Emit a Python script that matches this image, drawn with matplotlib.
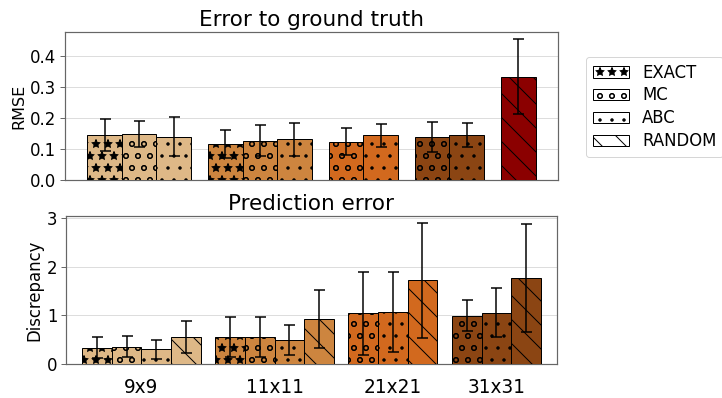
# RMSE and prediction error of the estimators per grid size
import numpy as np
import matplotlib.pyplot as plt

sizes = ["9x9", "11x11", "21x21", "31x31"]
colors = ["#deb887", "#cd853f", "#d2691e", "#8b4513"]
methods = ["EXACT", "MC", "ABC", "RANDOM"]
hatches = {"EXACT": "*", "MC": "o", "ABC": ".", "RANDOM": "\\"}

# top panel: error to ground truth (None = not run)
rmse = {
    "EXACT": [0.145, 0.116, None, None],
    "MC": [0.149, 0.126, 0.124, 0.139],
    "ABC": [0.140, 0.131, 0.144, 0.144],
}
rmse_err = {
    "EXACT": [0.051, 0.045, None, None],
    "MC": [0.041, 0.050, 0.043, 0.049],
    "ABC": [0.062, 0.053, 0.037, 0.039],
}
rmse_random = 0.334
rmse_random_err = 0.121

# bottom panel: prediction error
disc = {
    "EXACT": [0.336, 0.562, None, None],
    "MC": [0.357, 0.562, 1.043, 0.994],
    "ABC": [0.300, 0.494, 1.070, 1.056],
    "RANDOM": [0.549, 0.932, 1.722, 1.763],
}
disc_err = {
    "EXACT": [0.21, 0.41, None, None],
    "MC": [0.22, 0.41, 0.85, 0.32],
    "ABC": [0.19, 0.31, 0.82, 0.51],
    "RANDOM": [0.33, 0.60, 1.18, 1.11],
}

plt.rcParams["font.size"] = 16
fig = plt.figure(figsize=(722 / 72, 398 / 72), dpi=72)
ax1 = fig.add_axes([0.090, 0.5477, 0.683, 0.372])
ax2 = fig.add_axes([0.0914, 0.0854, 0.680, 0.372])

err_kw = dict(ecolor="black", elinewidth=1.5, capsize=5.5, capthick=1.5)


def grouped(ax, vals, errs, names):
    pos = 0.0
    centers = []
    for g in range(len(sizes)):
        xs = []
        for m in names:
            v = vals[m][g]
            if v is None:
                continue
            ax.bar(pos, v, width=1.0, color=colors[g], edgecolor="black",
                   linewidth=1, hatch=hatches[m], yerr=errs[m][g],
                   error_kw=err_kw, zorder=3)
            xs.append(pos)
            pos += 1
        centers.append(np.mean(xs))
        pos += 0.5
    return pos, centers


pos, _ = grouped(ax1, rmse, rmse_err, ["EXACT", "MC", "ABC"])
ax1.bar(pos, rmse_random, width=1.0, color="#8b0000", edgecolor="black",
        linewidth=1, hatch=hatches["RANDOM"], yerr=rmse_random_err,
        error_kw=err_kw, zorder=3)
ax1.set_xticks([])
ax1.set_yticks([0.0, 0.1, 0.2, 0.3, 0.4])
ax1.set_ylabel("RMSE", fontsize=16)
ax1.set_title("Error to ground truth", fontsize=21.5, pad=6)

pos, centers = grouped(ax2, disc, disc_err, methods)
ax2.set_xlim(-0.5 - 0.55, pos - 1.0 + 0.55)
ax2.set_xticks(centers)
ax2.set_xticklabels(sizes, fontsize=18.5)
ax2.set_yticks([0, 1, 2, 3])
ax2.set_ylabel("Discrepancy", fontsize=16.5)
ax2.set_title("Prediction error", fontsize=21.5, pad=6)

for ax in (ax1, ax2):
    ax.grid(axis="y", color="#dddddd", linewidth=1, zorder=0)
    ax.set_axisbelow(True)
    for s in ax.spines.values():
        s.set_color("#666666")
        s.set_linewidth(1.2)
    ax.tick_params(axis="x", length=0, pad=14)
    ax.tick_params(axis="y", color="#444444", length=5, labelsize=16.5)

handles = [plt.Rectangle((0, 0), 1, 1, facecolor="white", edgecolor="black",
                         hatch=hatches[m], label=m) for m in methods]
fig.legend(handles=handles, loc="upper left", bbox_to_anchor=(0.8116, 0.857),
           borderaxespad=0, handlelength=2.2, labelspacing=0.3,
           fontsize=16.5, edgecolor="#cccccc")

fig.savefig("out.png", dpi=72)
